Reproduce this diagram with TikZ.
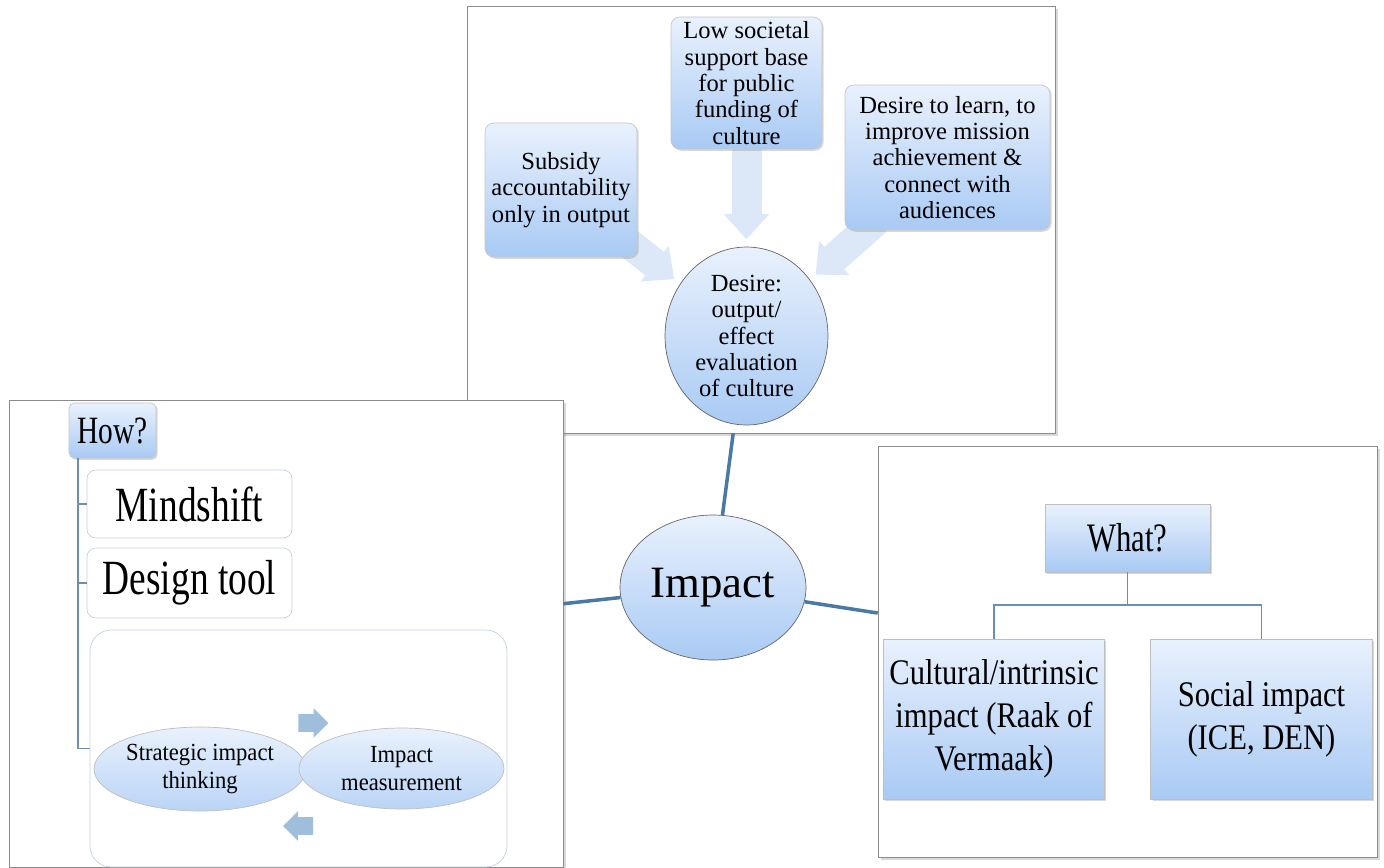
\documentclass[tikz,border=0pt]{standalone}
\usepackage{fontspec}
\setmainfont{Liberation Serif}
\newfontfamily\narrowfont{Liberation Serif}[FakeStretch=0.76]
\newfontfamily\semifont{Liberation Serif}[FakeStretch=0.85]
\newfontfamily\loopfont{Liberation Serif}[FakeStretch=0.92]
\usepackage{tikz}
\usetikzlibrary{arrows.meta,calc,backgrounds,shapes.geometric,shapes.arrows,shadows}
\definecolor{boxtop}{HTML}{E9F1FD}
\definecolor{boxbot}{HTML}{A9CAF4}
\definecolor{hubblue}{HTML}{4A79A5}
\definecolor{treeblue}{HTML}{6A8FB5}
\definecolor{paleblue}{HTML}{DCE8F8}
\definecolor{cycleblue}{HTML}{9FBEDC}
\definecolor{framegray}{HTML}{8C8C8C}
\tikzstyle{panel} = [draw=framegray,fill=white,inner sep=0pt,drop shadow={shadow xshift=1.5pt,shadow yshift=-1.5pt,opacity=0.3}]
\tikzstyle{cause} = [draw=gray!45,rounded corners=5pt,top color=boxtop,bottom color=boxbot,align=center,inner sep=0pt,font=\fontsize{14}{15}\selectfont,drop shadow={shadow xshift=1pt,shadow yshift=-1pt,opacity=0.3}]
\tikzstyle{bubble} = [ellipse,draw=gray!80!black,top color=boxtop,bottom color=boxbot,align=center,inner sep=0pt]
\tikzstyle{bigarrow} = [-{Triangle[width=0.88cm,length=0.5cm]},line width=0.6cm,draw=paleblue,shorten <=-0.3cm,shorten >=0.15cm]
\tikzstyle{howhead} = [draw=gray!45,rounded corners=3pt,top color=boxtop,bottom color=boxbot,inner sep=0pt,minimum width=1.74cm,minimum height=1.1cm,font=\narrowfont\fontsize{22}{26}\selectfont,drop shadow={shadow xshift=1pt,shadow yshift=-1pt,opacity=0.3}]
\tikzstyle{howbox} = [draw=treeblue!40,rounded corners=5pt,fill=white,inner sep=0pt,font=\narrowfont\fontsize{28}{30}\selectfont]
\tikzstyle{loopframe} = [draw=treeblue!40,rounded corners=12pt,fill=white,minimum width=8.34cm,minimum height=4.74cm]
\tikzstyle{loopbubble} = [ellipse,draw=gray!50,top color=boxtop,bottom color=boxbot!80!white,align=center,inner sep=0pt,font=\loopfont\fontsize{14}{16}\selectfont]
\tikzstyle{cyclearrow} = [single arrow,fill=cycleblue,inner xsep=0pt,inner ysep=0.17cm,minimum height=0.6cm,single arrow head extend=0.12cm]
\tikzstyle{whathead} = [draw=gray!50,top color=boxtop,bottom color=boxbot,inner sep=0pt,minimum width=3.3cm,minimum height=1.36cm,font=\narrowfont\fontsize{23}{26}\selectfont,drop shadow={shadow xshift=1pt,shadow yshift=-1pt,opacity=0.3}]
\tikzstyle{whatbox} = [draw=gray!50,top color=boxtop,bottom color=boxbot,align=center,inner sep=0pt,minimum width=4.43cm,minimum height=3.2cm,font=\semifont\fontsize{20.5}{24.5}\selectfont,drop shadow={shadow xshift=1pt,shadow yshift=-1pt,opacity=0.3}]
\tikzstyle{hub} = [draw=hubblue,line width=2pt]
\tikzstyle{treeline} = [draw=treeblue,line width=1.1pt]

\begin{document}
\begin{tikzpicture}[x=0.02cm,y=-0.02cm]
  \useasboundingbox (0,0) rectangle (1384,867);
  % Panels
  \begin{scope}[on background layer]
    \node[panel,minimum width=11.76cm,minimum height=8.54cm] (whypanel) at (761,219.5) {};
    \node[panel,minimum width=11.08cm,minimum height=9.34cm] (howpanel) at (286,633.5) {};
    \node[panel,minimum width=9.98cm,minimum height=8.22cm] (whatpanel) at (1127.5,651.5) {};
  \end{scope}
  % Why
  \node[cause,minimum width=3.04cm,minimum height=2.68cm] (subsidy) at (561,190) {Subsidy\\accountability\\only in output};
  \node[cause,minimum width=3.02cm,minimum height=2.64cm] (support) at (746.5,83) {Low societal\\support base\\for public\\funding of\\culture};
  \node[cause,minimum width=4.1cm,minimum height=2.9cm] (learn) at (947.5,157.5) {Desire to learn, to\\improve mission\\achievement \&\\connect with\\audiences};
  \node[bubble,minimum width=3.26cm,minimum height=3.56cm,font=\fontsize{14}{15}\selectfont] (desire) at (746.5,336) {Desire:\\output/\\effect\\evaluation\\of culture};
  \begin{scope}[on background layer]
    \foreach \src in {subsidy,support,learn}
      \draw[bigarrow] (\src) -- (desire);
  \end{scope}
  % How
  \node[howhead] (how) at (112.5,430.5) {How?};
  \node[howbox,minimum width=4.1cm,minimum height=1.36cm] (mind) at (189.5,504) {Mindshift};
  \node[howbox,minimum width=4.1cm,minimum height=1.4cm] (design) at (189.5,583) {Design tool};
  \node[loopframe] (loopbox) at (298.5,748.5) {};
  \node[loopbubble,minimum width=4.24cm,minimum height=1.68cm] (strategic) at (200,769) {Strategic impact\\thinking};
  \node[loopbubble,minimum width=4.1cm,minimum height=1.62cm] (measure) at (401.5,768.5) {Impact\\measurement};
  \node[cyclearrow] (fwd) at (309,723) {};
  \node[cyclearrow,shape border rotate=180] (back) at (302.5,826) {};
  \foreach \item in {mind,design,loopbox}
    \draw[treeline] ($(how.south west)+(9,0)$) |- (\item.west);
  % What
  \node[whathead] (what) at (1127.5,538) {What?};
  \node[whatbox] (cultural) at (994,719) {Cultural/intrinsic\\impact (Raak of\\Vermaak)};
  \node[whatbox] (social) at (1261.5,719) {Social impact\\(ICE, DEN)};
  \foreach \kid in {cultural,social}
    \draw[treeline] (what.south) -- ++(0,33) -| (\kid.north);
  % Hub
  \node[bubble,minimum width=3.72cm,minimum height=2.9cm,font=\fontsize{25.5}{28}\selectfont] (impact) at (713,587.5) {Impact};
  \foreach \p in {whypanel,howpanel,whatpanel}
    \draw[hub] (impact) -- (\p);
\end{tikzpicture}
\end{document}
